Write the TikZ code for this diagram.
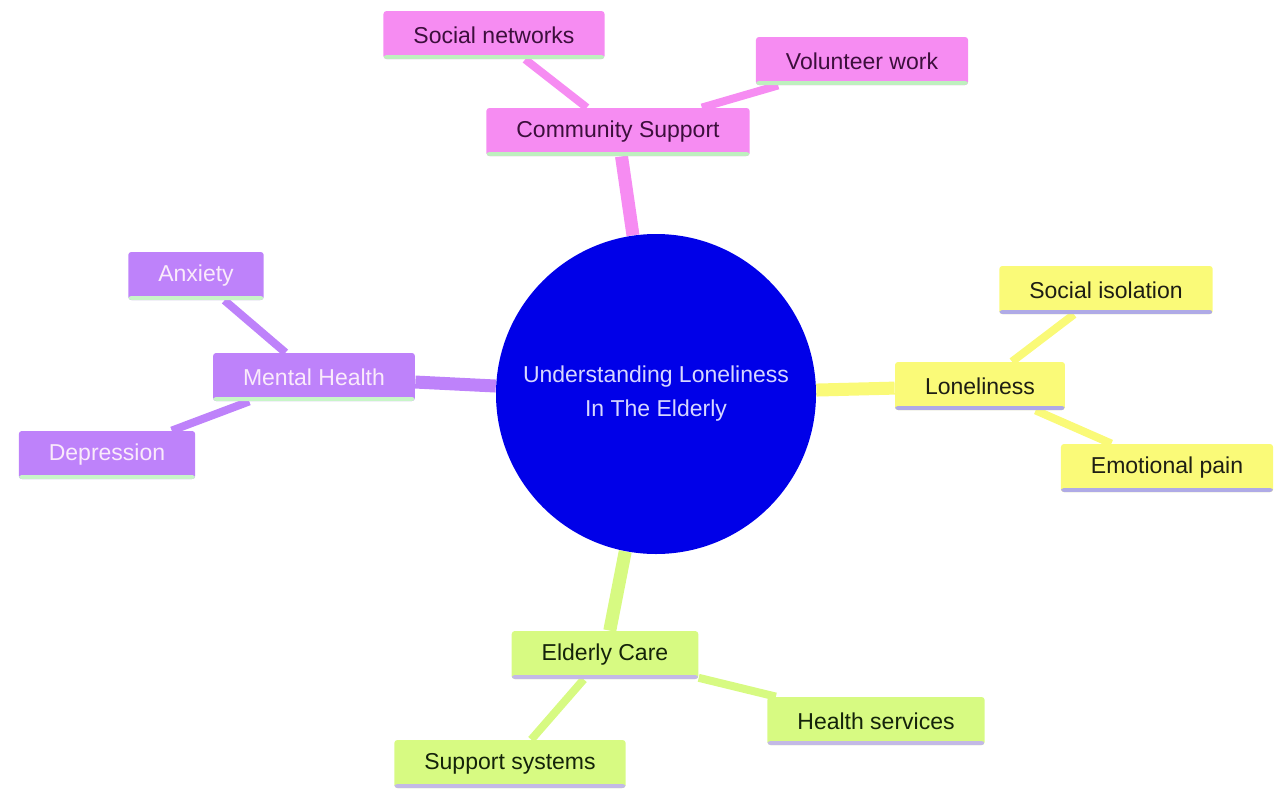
\documentclass[tikz,border=0pt]{standalone}
\usepackage{fontspec}
\setmainfont{Liberation Sans}
\usetikzlibrary{backgrounds}

\definecolor{pinkfill}{RGB}{246,140,242}
\definecolor{pinktext}{RGB}{60,15,60}
\definecolor{pinkline}{RGB}{190,240,190}
\definecolor{purplefill}{RGB}{190,130,250}
\definecolor{purpletext}{RGB}{250,235,250}
\definecolor{purpleline}{RGB}{200,245,200}
\definecolor{yellowfill}{RGB}{250,250,120}
\definecolor{yellowtext}{RGB}{30,30,20}
\definecolor{yellowline}{RGB}{175,170,230}
\definecolor{greenfill}{RGB}{215,250,130}
\definecolor{greentext}{RGB}{20,35,10}
\definecolor{greenline}{RGB}{195,185,230}
\definecolor{corefill}{RGB}{0,0,232}
\definecolor{coretext}{RGB}{215,215,255}

\tikzset{
  topic/.style={rectangle, rounded corners=1.5pt, inner xsep=15pt, inner ysep=0pt,
    minimum height=24pt, font=\fontsize{11.5}{13}\selectfont},
  underline/.style={path picture={\fill[#1] ([yshift=2pt]path picture bounding box.south west)
    rectangle (path picture bounding box.south east);}},
  pinktopic/.style={topic, fill=pinkfill, text=pinktext, underline=pinkline},
  purpletopic/.style={topic, fill=purplefill, text=purpletext, underline=purpleline},
  yellowtopic/.style={topic, fill=yellowfill, text=yellowtext, underline=yellowline},
  greentopic/.style={topic, fill=greenfill, text=greentext, underline=greenline},
  trunk/.style={line width=6.5pt},
  twig/.style={line width=4pt}
}

\begin{document}
\begin{tikzpicture}[x=0.5pt,y=-0.5pt]
  \useasboundingbox (0,0) rectangle (1274,793);
  \node (core) at (656,394) [circle, fill=corefill, text=coretext, minimum size=160pt,
    align=center, font=\fontsize{11.5}{17}\selectfont] {Understanding Loneliness\\In The Elderly};
  \node (comm) at (618,132) [pinktopic] {Community Support};
  \node (net) at (494,35) [pinktopic] {Social networks};
  \node (vol) at (862,61) [pinktopic] {Volunteer work};
  \node (mental) at (314,377) [purpletopic] {Mental Health};
  \node (anx) at (196,276) [purpletopic] {Anxiety};
  \node (dep) at (107,455) [purpletopic] {Depression};
  \node (lone) at (980,386) [yellowtopic] {Loneliness};
  \node (iso) at (1106,290) [yellowtopic] {Social isolation};
  \node (pain) at (1167,468) [yellowtopic] {Emotional pain};
  \node (care) at (605,655) [greentopic] {Elderly Care};
  \node (health) at (876,721) [greentopic] {Health services};
  \node (sys) at (510,764) [greentopic] {Support systems};
  \begin{pgfonlayer}{background}
    \draw[trunk, pinkfill] (core) -- (comm);
    \draw[twig, pinkfill] (comm) -- (net) (comm) -- (vol);
    \draw[trunk, purplefill] (core) -- (mental);
    \draw[twig, purplefill] (mental) -- (anx) (mental) -- (dep);
    \draw[trunk, yellowfill] (core) -- (lone);
    \draw[twig, yellowfill] (lone) -- (iso) (lone) -- (pain);
    \draw[trunk, greenfill] (core) -- (care);
    \draw[twig, greenfill] (care) -- (health) (care) -- (sys);
  \end{pgfonlayer}
\end{tikzpicture}
\end{document}
